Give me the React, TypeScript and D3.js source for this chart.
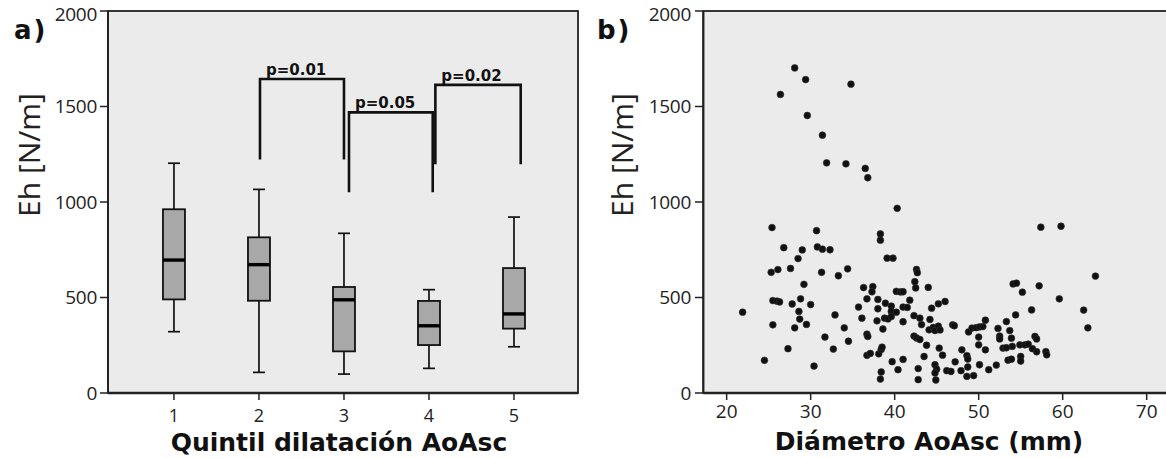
import React from "react";
import * as d3 from "d3";

// ---------- Panel a) box plot data ----------
const quintiles = [1, 2, 3, 4, 5];
const whiskerLow = [321, 108, 99, 129, 242];
const q1 = [490, 483, 218, 251, 337];
const median = [696, 672, 488, 352, 414];
const q3 = [962, 815, 555, 482, 654];
const whiskerHigh = [1203, 1066, 836, 541, 921];

const pLabels = ["p=0.01", "p=0.05", "p=0.02"];
const bracketFrom = [2.012, 3.059, 4.075];
const bracketTo = [3.0, 4.044, 5.079];
const bracketTop = [1644, 1469, 1613];
const bracketBottom = [1223, 1051, 1197];

const yTicks = [0, 500, 1000, 1500, 2000];
const xTicksB = [20, 30, 40, 50, 60, 70];

// ---------- Panel b) scatter data ----------
const diameter = [
  21.9, 24.5, 25.4, 25.3, 26.1, 26.4, 26.8, 28.1, 29.4, 29.6, 28.5, 29.0, 27.6, 29.2, 25.5, 26.0, 26.3, 27.8, 28.8, 28.6, 25.5, 28.7, 29.5, 28.1, 27.3,
  30.7, 30.8, 31.4, 32.3, 31.3, 33.3, 34.4, 31.4, 31.9, 34.2, 34.8, 30.0, 31.7, 32.7, 30.4, 32.9, 34.0, 34.5, 35.7, 36.5, 36.8,
  36.3, 37.4, 37.3, 36.7, 36.1, 36.7, 36.8, 36.7, 37.1, 38.0, 38.0, 37.9, 38.6, 38.1, 38.4, 38.5, 38.4, 38.3, 38.3, 38.3, 39.1, 39.8, 38.9, 39.6, 39.6, 40.2, 38.8, 39.2, 39.6, 39.7, 40.3,
  40.4, 40.2, 40.7, 41.0, 41.0, 41.5, 41.0, 41.8, 41.0, 42.6, 42.7, 42.4, 42.5, 44.0, 42.3, 43.0, 43.2, 42.3, 42.6, 43.0, 43.8, 43.5, 42.8, 42.8, 44.2, 44.4, 45.2, 46.0, 44.1, 44.6, 44.8, 45.2, 45.4, 45.3, 45.7, 44.8, 45.0, 44.8, 44.9, 46.2, 46.7, 46.9, 47.1,
  47.9, 47.2, 48.0, 48.6, 48.7, 48.6, 49.4, 48.7, 48.8, 49.2, 49.7, 50.1, 50.5, 50.8, 50.0, 50.0, 50.8, 50.1, 51.2, 52.1,
  52.3, 52.5, 52.5, 53.3, 53.7, 53.9, 52.9, 53.3, 54.0, 54.9, 55.5, 55.9, 56.7, 56.9, 56.4, 56.9, 58.0, 58.1, 53.5, 53.9, 55.0, 55.0, 54.4, 54.1, 54.5, 55.2, 57.2, 56.3, 59.6, 62.5, 63.0, 63.9, 57.4, 59.8,
];
const eh = [
  423, 171, 866, 632, 646, 1563, 761, 1702, 1641, 1453, 704, 749, 652, 569, 484, 481, 477, 466, 493, 427, 357, 387, 359, 341, 232,
  850, 765, 753, 750, 632, 614, 650, 1350, 1205, 1200, 1617, 463, 293, 230, 141, 409, 341, 271, 450, 1176, 1127,
  552, 557, 530, 493, 392, 308, 296, 197, 207, 490, 441, 378, 335, 205, 228, 240, 110, 73, 833, 800, 706, 706, 470, 455, 427, 423, 392, 388, 400, 164, 967,
  122, 532, 529, 530, 450, 448, 373, 486, 176, 647, 630, 583, 550, 553, 405, 392, 358, 298, 288, 280, 250, 191, 128, 70, 385, 444, 467, 479, 331, 343, 327, 350, 330, 235, 198, 148, 125, 105, 68, 117, 113, 357, 352,
  117, 163, 226, 196, 178, 87, 91, 136, 320, 340, 342, 346, 348, 381, 293, 252, 226, 148, 122, 146,
  338, 298, 283, 374, 327, 287, 235, 237, 244, 252, 252, 256, 296, 283, 232, 216, 217, 200, 172, 177, 191, 167, 409, 571, 575, 528, 561, 435, 493, 434, 341, 612, 868, 873,
];

const W = 1166;
const H = 459;
const TOP = 11;
const BOTTOM = 393;

const tickFont = "'Open Sans', 'Noto Sans', sans-serif";
const boldFont = "'DejaVu Sans', Verdana, sans-serif";

export default function App() {
  const y = d3.scaleLinear().domain([0, 2000]).range([BOTTOM, TOP]);
  const xa = d3.scaleLinear().domain([0.224, 5.753]).range([108, 578]);
  const xb = d3.scaleLinear().domain([17.22, 72.3]).range([703.3, 1166]);

  const boxW = 22;
  const capW = 12;
  const labelY = (t: number) => (t === 2000 ? y(t) + 3.5 : y(t));

  return (
    <svg
      width={W}
      height={H}
      style={{ position: "absolute", left: 0, top: 0, background: "#fff" }}
    >
      {/* ---------------- Panel a ---------------- */}
      <rect x={108} y={TOP} width={578 - 108} height={BOTTOM - TOP} fill="#ebebeb" stroke="#222" strokeWidth={1.8} />
      {yTicks.map((t) => (
        <g key={"ya" + t}>
          <line x1={100} x2={108} y1={y(t)} y2={y(t)} stroke="#222" strokeWidth={1.5} />
          <text x={97} y={labelY(t)} dy="0.36em" textAnchor="end" fontFamily={tickFont} fontSize={19} fill="#222" letterSpacing={-0.3}>
            {t}
          </text>
        </g>
      ))}
      {quintiles.map((q) => (
        <g key={"xa" + q}>
          <line x1={xa(q)} x2={xa(q)} y1={BOTTOM} y2={BOTTOM + 7} stroke="#222" strokeWidth={1.5} />
          <text x={xa(q)} y={422} textAnchor="middle" fontFamily={tickFont} fontSize={18} fill="#222">
            {q}
          </text>
        </g>
      ))}
      <line x1={108} x2={578} y1={BOTTOM} y2={BOTTOM} stroke="#222" strokeWidth={2.4} />
      <line x1={108} x2={108} y1={TOP} y2={BOTTOM} stroke="#222" strokeWidth={2} />

      {quintiles.map((q, i) => {
        const cx = xa(q);
        return (
          <g key={"box" + q}>
            <line x1={cx} x2={cx} y1={y(whiskerHigh[i])} y2={y(q3[i])} stroke="#111" strokeWidth={1.7} />
            <line x1={cx} x2={cx} y1={y(q1[i])} y2={y(whiskerLow[i])} stroke="#111" strokeWidth={1.7} />
            <line x1={cx - capW / 2} x2={cx + capW / 2} y1={y(whiskerHigh[i])} y2={y(whiskerHigh[i])} stroke="#111" strokeWidth={1.7} />
            <line x1={cx - capW / 2} x2={cx + capW / 2} y1={y(whiskerLow[i])} y2={y(whiskerLow[i])} stroke="#111" strokeWidth={1.7} />
            <rect x={cx - boxW / 2} y={y(q3[i])} width={boxW} height={y(q1[i]) - y(q3[i])} fill="#a8a8a8" stroke="#111" strokeWidth={1.8} />
            <line x1={cx - boxW / 2} x2={cx + boxW / 2} y1={y(median[i])} y2={y(median[i])} stroke="#000" strokeWidth={3.4} />
          </g>
        );
      })}

      {pLabels.map((lab, i) => {
        const x1 = xa(bracketFrom[i]);
        const x2 = xa(bracketTo[i]);
        const yt = y(bracketTop[i]);
        const yb = y(bracketBottom[i]);
        return (
          <g key={"br" + i}>
            <path d={`M${x1},${yb}V${yt}H${x2}V${yb}`} fill="none" stroke="#111" strokeWidth={2.6} />
            <text x={x1 + 6} y={yt - 4} fontFamily={boldFont} fontWeight="bold" fontSize={15} fill="#111">
              {lab}
            </text>
          </g>
        );
      })}

      <text x={14} y={39} fontFamily={boldFont} fontWeight="bold" fontSize={26} fill="#111" letterSpacing={2}>
        a)
      </text>
      <text transform="translate(40,155) rotate(-90)" textAnchor="middle" fontFamily={tickFont} fontSize={30} fill="#222">
        Eh [N/m]
      </text>
      <text x={339} y={451} textAnchor="middle" fontFamily={boldFont} fontWeight="bold" fontSize={25} fill="#111">
        Quintil dilatación AoAsc
      </text>

      {/* ---------------- Panel b ---------------- */}
      <rect x={703.3} y={TOP} width={1166 - 703.3 + 5} height={BOTTOM - TOP} fill="#ebebeb" stroke="#222" strokeWidth={1.8} />
      {yTicks.map((t) => (
        <g key={"yb" + t}>
          <line x1={695} x2={703.3} y1={y(t)} y2={y(t)} stroke="#222" strokeWidth={1.5} />
          <text x={691} y={labelY(t)} dy="0.36em" textAnchor="end" fontFamily={tickFont} fontSize={19} fill="#222" letterSpacing={-0.3}>
            {t}
          </text>
        </g>
      ))}
      {xTicksB.map((t) => (
        <g key={"xb" + t}>
          <line x1={xb(t)} x2={xb(t)} y1={BOTTOM} y2={BOTTOM + 7} stroke="#222" strokeWidth={1.5} />
          <text x={xb(t)} y={418} textAnchor="middle" fontFamily={tickFont} fontSize={19} fill="#222">
            {t}
          </text>
        </g>
      ))}
      <line x1={703.3} x2={1166} y1={BOTTOM} y2={BOTTOM} stroke="#222" strokeWidth={2.4} />
      <line x1={703.3} x2={703.3} y1={TOP} y2={BOTTOM} stroke="#222" strokeWidth={2} />

      {diameter.map((d, i) => (
        <circle key={"pt" + i} cx={xb(d)} cy={y(eh[i])} r={3.4} fill="#111" stroke="#333" strokeWidth={0.6} />
      ))}

      <text x={597} y={39} fontFamily={boldFont} fontWeight="bold" fontSize={26} fill="#111" letterSpacing={2}>
        b)
      </text>
      <text transform="translate(633,155) rotate(-90)" textAnchor="middle" fontFamily={tickFont} fontSize={30} fill="#222">
        Eh [N/m]
      </text>
      <text x={929} y={450} textAnchor="middle" fontFamily={boldFont} fontWeight="bold" fontSize={25} fill="#111">
        Diámetro AoAsc (mm)
      </text>
    </svg>
  );
}
